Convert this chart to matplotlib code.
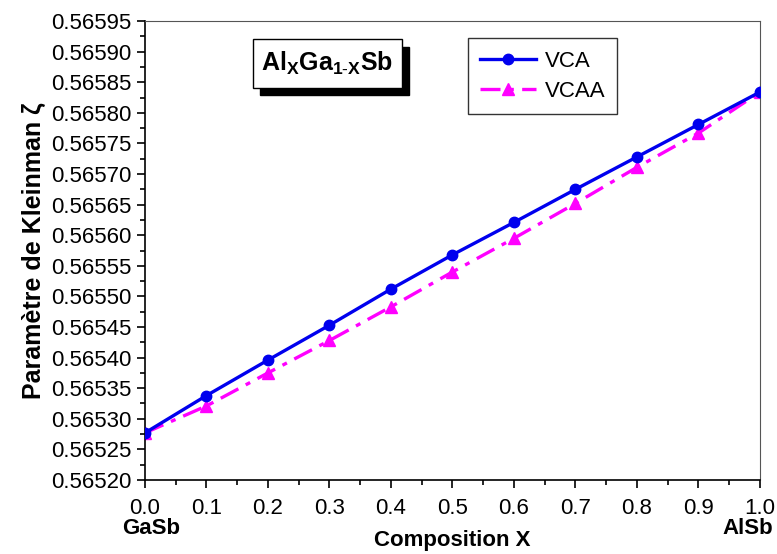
import matplotlib

matplotlib.use("Agg")
import matplotlib.pyplot as plt
from matplotlib.patches import Rectangle
from matplotlib.ticker import MultipleLocator, FormatStrFormatter

# Data
composition = [0.0, 0.1, 0.2, 0.3, 0.4, 0.5, 0.6, 0.7, 0.8, 0.9, 1.0]
vca = [0.565277, 0.565338, 0.565396, 0.565453, 0.565512, 0.565568,
       0.565621, 0.565675, 0.565728, 0.565781, 0.565834]
vcaa = [0.565277, 0.565321, 0.565375, 0.565428, 0.565483, 0.565540,
        0.565595, 0.565652, 0.565711, 0.565767, 0.565834]

plt.rcParams["font.family"] = ["Liberation Sans", "DejaVu Sans"]
plt.rcParams["mathtext.fontset"] = "custom"
plt.rcParams["mathtext.rm"] = "Liberation Sans"
plt.rcParams["mathtext.bf"] = "Liberation Sans:bold"
plt.rcParams["mathtext.it"] = "Liberation Sans:italic"

TICK_FS, LABEL_FS = 16, 16

fig = plt.figure(figsize=(7.77, 5.54), dpi=100)
ax = fig.add_axes([0.1866, 0.1336, 0.7915, 0.8284])

ax.plot(composition, vca, color="#0000ee", lw=2.4, marker="o", ms=7.5,
        label="VCA", zorder=3)
ax.plot(composition, vcaa, color="#ff00ff", lw=2.4, ls=(0, (6, 2.5, 1.5, 2.5)),
        marker="^", ms=9, label="VCAA", zorder=2)

ax.set_xlim(0.0, 1.0)
ax.set_ylim(0.56520, 0.56595)
ax.xaxis.set_major_locator(MultipleLocator(0.1))
ax.xaxis.set_minor_locator(MultipleLocator(0.05))
ax.yaxis.set_major_locator(MultipleLocator(0.00005))
ax.yaxis.set_minor_locator(MultipleLocator(0.000025))
ax.xaxis.set_major_formatter(FormatStrFormatter("%.1f"))
ax.yaxis.set_major_formatter(FormatStrFormatter("%.5f"))
ax.tick_params(which="both", direction="out", top=False, right=False,
               labelsize=TICK_FS, width=1.2)
ax.tick_params(axis="x", which="major", pad=7)
ax.tick_params(which="major", length=6)
ax.tick_params(which="minor", length=3.5)
for sp in ax.spines.values():
    sp.set_linewidth(1.2)
for side in ("top", "right"):
    ax.spines[side].set_color("#555555")
    ax.spines[side].set_linewidth(0.8)

ax.set_ylabel("Paramètre de Kleinman ζ", fontsize=18, fontweight="bold",
              labelpad=4)
ax.set_xlabel("Composition X", fontsize=LABEL_FS, fontweight="bold", labelpad=8)
ax.text(0.01, -0.082, "GaSb", transform=ax.transAxes, ha="center", va="top",
        fontsize=LABEL_FS, fontweight="bold")
ax.text(0.98, -0.082, "AlSb", transform=ax.transAxes, ha="center", va="top",
        fontsize=LABEL_FS, fontweight="bold")

# Title box with shadow
bx0, by0, bw, bh = 0.175, 0.855, 0.243, 0.105
ax.add_patch(Rectangle((bx0 + 0.012, by0 - 0.017), bw, bh, transform=ax.transAxes,
                       facecolor="black", edgecolor="black", zorder=4))
ax.add_patch(Rectangle((bx0, by0), bw, bh, transform=ax.transAxes,
                       facecolor="white", edgecolor="black", lw=1.0, zorder=5))
ax.text(bx0 + bw / 2, by0 + bh / 2, r"$\mathbf{Al_XGa_{1\text{-}X}Sb}$",
        transform=ax.transAxes, ha="center", va="center", fontsize=18, zorder=6)

leg = ax.legend(loc="upper left", bbox_to_anchor=(0.525, 0.962), fontsize=16,
                frameon=True, fancybox=False, handlelength=2.5, borderpad=0.55,
                labelspacing=0.4, handletextpad=0.4, borderaxespad=0)
leg.get_frame().set_edgecolor("black")
leg.get_frame().set_linewidth(1.0)

fig.savefig("out.png", dpi=100)
